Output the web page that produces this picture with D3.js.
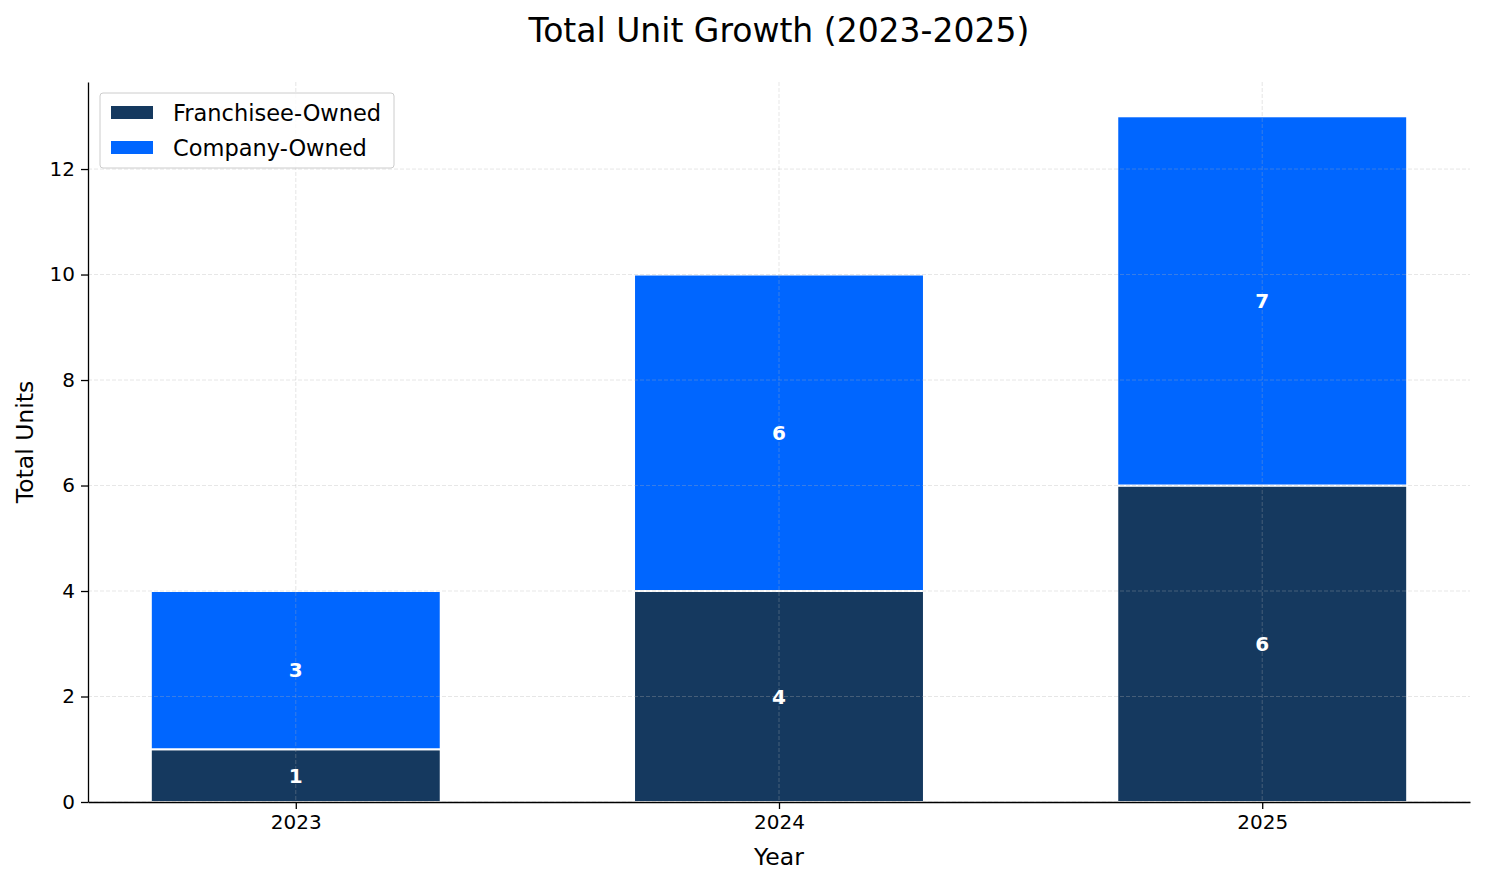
<!DOCTYPE html>
<html lang="en">
<head>
  <meta charset="UTF-8">
  <title>Total Unit Growth</title>
  <script src="https://d3js.org/d3.v7.min.js"></script>
  <style>
    body { margin: 0; background: #fff; }
    svg text { font-family: "DejaVu Sans", sans-serif; }
  </style>
</head>
<body>
  <div id="chart"></div>

  <script>
    const years = ["2023", "2024", "2025"];
    const franchisee = [1, 4, 6];
    const company = [3, 6, 7];
    const yTicks = [0, 2, 4, 6, 8, 10, 12];
    const seriesNames = ["Franchisee-Owned", "Company-Owned"];
    const colors = ["#15395F", "#0066FF"];

    const W = 1485, H = 884;
    const margin = { top: 82, right: 15, bottom: 82, left: 88 },
          width = W - margin.left - margin.right,
          height = H - margin.top - margin.bottom;

    const svg = d3.select("#chart")
      .append("svg")
      .attr("width", W)
      .attr("height", H);

    const g = svg.append("g")
      .attr("transform", `translate(${margin.left},${margin.top})`);

    // bars at 0,1,2 width 0.6, 5% margins like matplotlib
    const x = d3.scaleLinear().domain([-0.43, 2.43]).range([0, width]);
    const barW = x(0.6) - x(0);

    const totals = years.map((d, i) => franchisee[i] + company[i]);
    const y = d3.scaleLinear()
      .domain([0, d3.max(totals) * 1.05])
      .range([height, 0]);

    const stacks = [
      years.map((yr, i) => ({ i, y0: 0, y1: franchisee[i], v: franchisee[i] })),
      years.map((yr, i) => ({ i, y0: franchisee[i], y1: franchisee[i] + company[i], v: company[i] }))
    ];

    stacks.forEach((s, k) => {
      g.selectAll(null)
        .data(s)
        .enter()
        .append("rect")
        .attr("x", d => x(d.i) - barW / 2)
        .attr("y", d => y(d.y1))
        .attr("width", barW)
        .attr("height", d => y(d.y0) - y(d.y1))
        .attr("fill", colors[k])
        .attr("stroke", "#fff")
        .attr("stroke-width", 2);
    });

    // faint dashed grid on top of bars
    const grid = g.append("g")
      .attr("stroke", "#b0b0b0")
      .attr("stroke-opacity", 0.4)
      .attr("stroke-dasharray", "4,2")
      .attr("stroke-width", 0.8);
    grid.selectAll(null)
      .data(yTicks)
      .enter()
      .append("line")
      .attr("x1", 0).attr("x2", width)
      .attr("y1", d => y(d)).attr("y2", d => y(d));
    grid.selectAll(null)
      .data(years.map((d, i) => i))
      .enter()
      .append("line")
      .attr("x1", d => x(d)).attr("x2", d => x(d))
      .attr("y1", 0).attr("y2", height);

    // value labels
    stacks.forEach(s => {
      g.selectAll(null)
        .data(s)
        .enter()
        .append("text")
        .attr("x", d => x(d.i))
        .attr("y", d => y((d.y0 + d.y1) / 2))
        .attr("dy", "0.36em")
        .attr("text-anchor", "middle")
        .attr("fill", "#fff")
        .attr("font-weight", "bold")
        .attr("font-size", 20)
        .text(d => d.v);
    });

    // axes
    const yAxis = g.append("g")
      .call(d3.axisLeft(y).tickValues(yTicks).tickSize(7).tickPadding(6).tickSizeOuter(0));

    const xAxis = g.append("g")
      .attr("transform", `translate(0,${height})`)
      .call(d3.axisBottom(x).tickValues([0, 1, 2]).tickFormat(i => years[i])
        .tickSize(7).tickPadding(6).tickSizeOuter(0));

    [yAxis, xAxis].forEach(a => {
      a.attr("font-family", null).attr("font-size", null);
      a.selectAll("text").attr("font-size", 20).attr("fill", "#000");
      a.selectAll("path, line").attr("stroke", "#000").attr("stroke-width", 1.3);
    });

    // title and axis labels
    svg.append("text")
      .attr("x", margin.left + width / 2)
      .attr("y", 42)
      .attr("text-anchor", "middle")
      .attr("font-size", 33)
      .text("Total Unit Growth (2023-2025)");

    svg.append("text")
      .attr("x", margin.left + width / 2)
      .attr("y", 865)
      .attr("text-anchor", "middle")
      .attr("font-size", 23.5)
      .text("Year");

    svg.append("text")
      .attr("transform", `translate(33,${margin.top + height / 2}) rotate(-90)`)
      .attr("text-anchor", "middle")
      .attr("font-size", 23.5)
      .text("Total Units");

    // legend
    const lg = svg.append("g").attr("transform", "translate(100,93)");
    lg.append("rect")
      .attr("width", 294).attr("height", 75)
      .attr("rx", 3)
      .attr("fill", "#fff")
      .attr("fill-opacity", 0.8)
      .attr("stroke", "#ccc");
    seriesNames.forEach((n, k) => {
      lg.append("rect")
        .attr("x", 11).attr("y", 13 + k * 35)
        .attr("width", 42).attr("height", 13)
        .attr("fill", colors[k]);
      lg.append("text")
        .attr("x", 73).attr("y", 20 + k * 35)
        .attr("dy", "0.36em")
        .attr("font-size", 22.5)
        .text(n);
    });
  </script>
</body>
</html>
